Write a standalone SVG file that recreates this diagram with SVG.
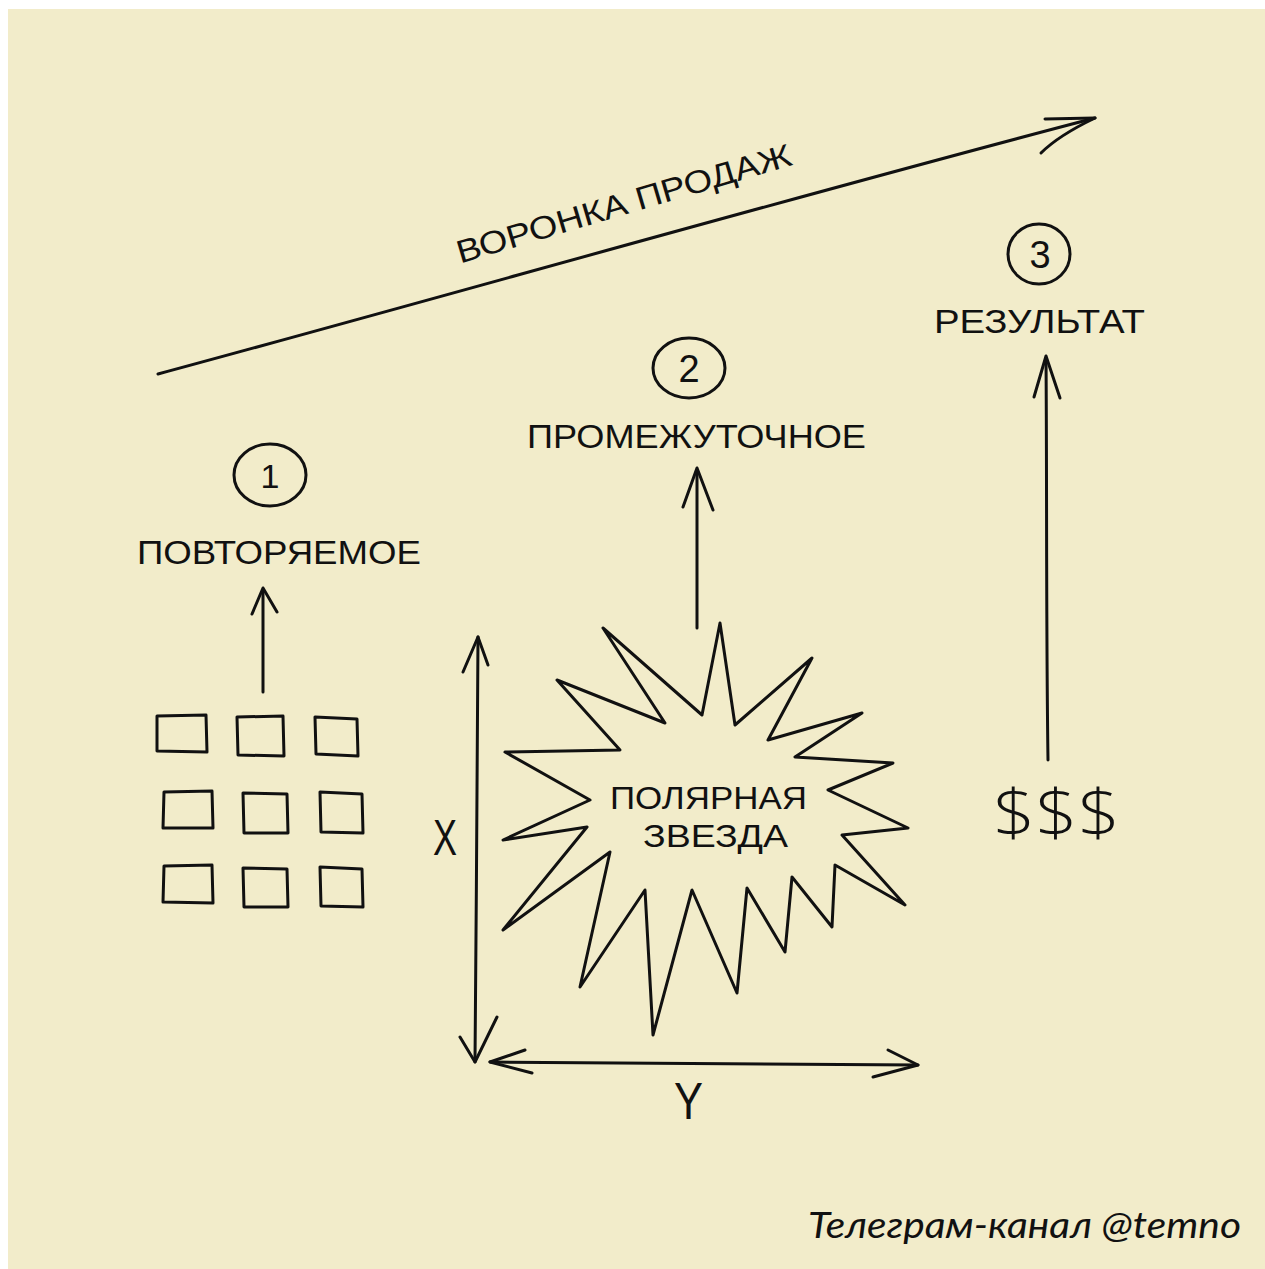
<svg xmlns="http://www.w3.org/2000/svg" width="1265" height="1269" viewBox="0 0 1265 1269">
<defs>
<style>
.ink{fill:none;stroke:#111;stroke-width:3;stroke-linecap:round;stroke-linejoin:round}
.hand{font-family:"Liberation Sans","DejaVu Sans",sans-serif;fill:#111}
.sig{font-family:Lato,"Open Sans",sans-serif;font-style:italic;fill:#111}
</style>
</defs>
<rect x="0" y="0" width="1265" height="1269" fill="#ffffff"/>
<rect x="8" y="9" width="1257" height="1260" fill="#f2ecca"/>

<g id="connectors">
  <g id="funnel-arrow">
    <path class="ink" d="M158,374 C450,295 800,195 1095,118"/>
    <path class="ink" d="M1045,119 L1095,118 C1070,130 1052,142 1041,153"/>
  </g>
  <g id="arrow-1">
    <path class="ink" d="M263,692 L263,590"/>
    <path class="ink" d="M252,614 L263,588 L277,612"/>
  </g>
  <g id="arrow-2">
    <path class="ink" d="M697,628 L697,470"/>
    <path class="ink" d="M683,507 L697,468 L713,510"/>
  </g>
  <g id="arrow-3">
    <path class="ink" d="M1048,760 C1046,620 1047,480 1046,358"/>
    <path class="ink" d="M1034,397 L1046,356 L1060,398"/>
  </g>
  <g id="axis-x">
    <path class="ink" d="M478,637 C476,780 477,920 475,1062"/>
    <path class="ink" d="M463,672 L478,637 L488,665"/>
    <path class="ink" d="M460,1037 L475,1062 L497,1017"/>
  </g>
  <g id="axis-y">
    <path class="ink" d="M490,1062 L918,1065"/>
    <path class="ink" d="M525,1050 L490,1062 L532,1073"/>
    <path class="ink" d="M888,1050 L918,1065 L873,1077"/>
  </g>
</g>

<g id="funnel-label">
  <text class="hand" font-size="32" text-anchor="middle" textLength="348" lengthAdjust="spacingAndGlyphs" transform="translate(627,214) rotate(-16.5)">ВОРОНКА ПРОДАЖ</text>
</g>

<g id="node-1">
  <ellipse class="ink" cx="270" cy="475" rx="36" ry="31"/>
  <text class="hand" x="270" y="488" font-size="34" text-anchor="middle">1</text>
  <text class="hand" x="137" y="564" font-size="34" textLength="284" lengthAdjust="spacingAndGlyphs">ПОВТОРЯЕМОЕ</text>
</g>

<g id="node-2">
  <ellipse class="ink" cx="689" cy="368" rx="36" ry="30"/>
  <text class="hand" x="689" y="382" font-size="38" text-anchor="middle">2</text>
  <text class="hand" x="527" y="448" font-size="33" textLength="339" lengthAdjust="spacingAndGlyphs">ПРОМЕЖУТОЧНОЕ</text>
</g>

<g id="node-3">
  <ellipse class="ink" cx="1039" cy="254" rx="31" ry="30"/>
  <text class="hand" x="1040" y="268" font-size="38" text-anchor="middle">3</text>
  <text class="hand" x="934" y="333" font-size="34" textLength="211" lengthAdjust="spacingAndGlyphs">РЕЗУЛЬТАТ</text>
</g>

<g id="squares">
  <path class="ink" d="M157,716 L206,715 L207,752 L157,751 Z"/>
  <path class="ink" d="M237,717 L283,716 L284,756 L238,755 Z"/>
  <path class="ink" d="M315,717 L357,719 L358,756 L316,754 Z"/>
  <path class="ink" d="M164,792 L212,791 L213,828 L163,828 Z"/>
  <path class="ink" d="M243,793 L287,794 L288,833 L244,833 Z"/>
  <path class="ink" d="M320,792 L362,794 L363,833 L321,832 Z"/>
  <path class="ink" d="M164,866 L212,865 L213,903 L163,902 Z"/>
  <path class="ink" d="M243,868 L287,869 L288,907 L244,907 Z"/>
  <path class="ink" d="M320,867 L362,869 L363,907 L321,906 Z"/>
</g>

<g id="money">
  <text x="993" y="836" font-size="64" font-weight="300" textLength="127" lengthAdjust="spacingAndGlyphs" style="font-family:'Open Sans','Liberation Sans',sans-serif;fill:#111">$$$</text>
</g>

<g id="north-star">
  <path class="ink" d="M720,623 L735,725 L812,658 L768,740 L862,713 L795,757 L893,763 L828,790 L908,828 L842,835 L905,905 L835,865 L832,927 L792,877 L785,952 L747,888 L737,993 L692,890 L653,1035 L645,890 L580,987 L610,852 L503,930 L587,827 L503,840 L590,800 L505,752 L620,750 L557,680 L665,723 L603,628 L702,715 Z"/>
  <text class="hand" x="610" y="809" font-size="32" textLength="197" lengthAdjust="spacingAndGlyphs">ПОЛЯРНАЯ</text>
  <text class="hand" x="643" y="847" font-size="32" textLength="145" lengthAdjust="spacingAndGlyphs">ЗВЕЗДА</text>
</g>

<g id="axis-labels">
  <text class="hand" x="433" y="855" font-size="50" textLength="24" lengthAdjust="spacingAndGlyphs">X</text>
  <text class="hand" x="674" y="1119" font-size="52" textLength="29" lengthAdjust="spacingAndGlyphs">Y</text>
</g>

<g id="signature">
  <text class="sig" x="808" y="1238" font-size="37" textLength="433" lengthAdjust="spacingAndGlyphs">Телеграм-канал @temno</text>
</g>
</svg>
